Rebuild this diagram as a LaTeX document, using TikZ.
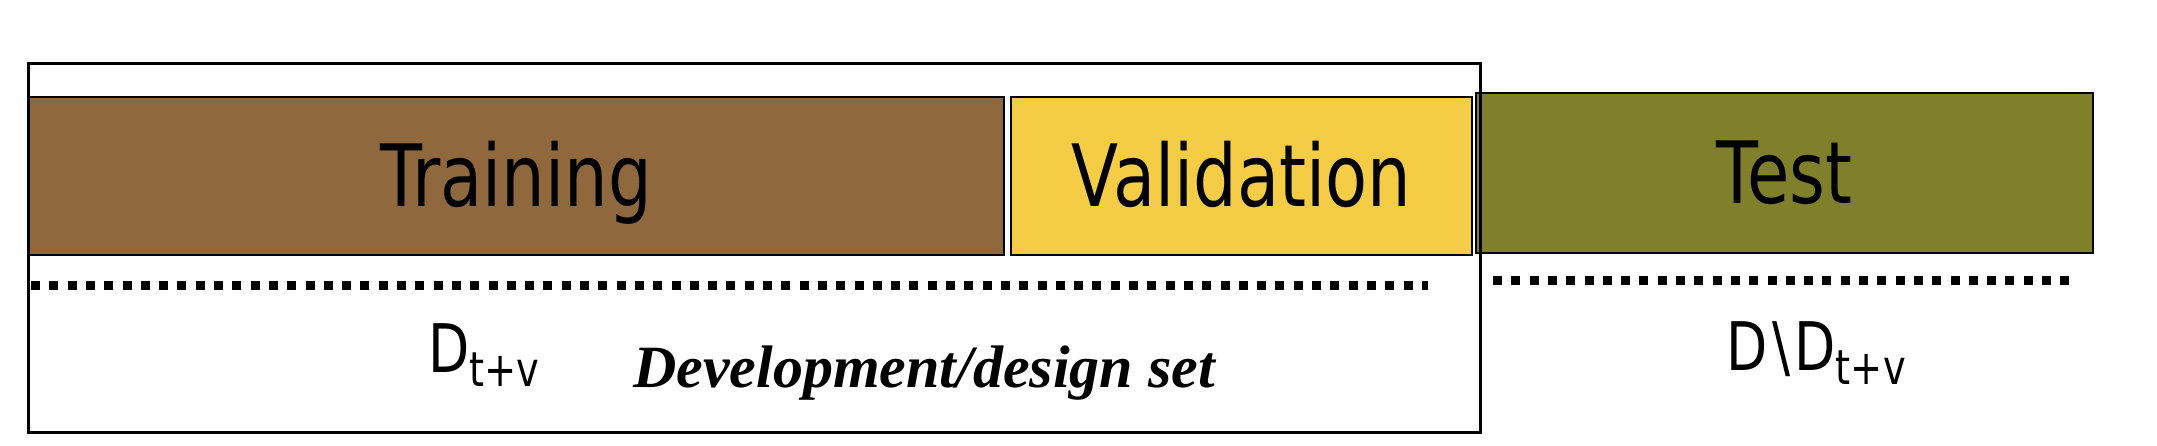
\documentclass[tikz,border=0pt]{standalone}
\usepackage{fontspec}
\newfontfamily\lblfont[FakeStretch=0.8]{DejaVu Sans}
\newfontfamily\devfont{Liberation Serif}
\definecolor{trainc}{RGB}{143,104,62}
\definecolor{valc}{RGB}{245,204,69}
\definecolor{testc}{RGB}{128,128,42}
\tikzset{
  setbox/.style={draw=black, line width=2pt, inner sep=0pt, outer sep=0pt,
    font=\lblfont\fontsize{86}{100}\selectfont, text height=62pt, text depth=0pt},
  dotline/.style={line width=9pt, dash pattern=on 9pt off 9.3pt},
  sublbl/.style={inner sep=0pt, anchor=base west, font=\lblfont\fontsize{67}{80}\selectfont}
}
\newcommand{\subtv}{\raisebox{-14pt}{\fontsize{48}{54}\selectfont t+v}}
\begin{document}
\begin{tikzpicture}[x=1pt,y=-1pt]
\useasboundingbox (0,0) rectangle (2157,446);
\node[setbox, fill=trainc, minimum width=976pt, minimum height=158pt] (train) at (516,176) {Training};
\node[setbox, fill=valc, minimum width=461pt, minimum height=158pt] (val) at (1241.5,176) {Validation};
\node[setbox, fill=testc, minimum width=617pt, minimum height=160pt] (test) at (1784.5,173) {Test};
\node[draw=black, line width=3pt, inner sep=0pt, minimum width=1452pt, minimum height=368pt] (dev) at (754,248) {};
\coordinate (d1) at (31,286);
\coordinate (d2) at (1428,286);
\coordinate (t1) at (1493,281);
\coordinate (t2) at (2070,281);
\draw[dotline] (d1) -- (d2);
\draw[dotline] (t1) -- (t2);
\node[sublbl] (dtv) at (428,372) {D\subtv};
\node[inner sep=0pt, anchor=base west, font=\devfont\bfseries\itshape\fontsize{60}{70}\selectfont] (devlbl) at (633,387) {Development/design set};
\node[sublbl] (ddtv) at (1726,370) {D\kern5pt\textbackslash\kern4pt D\subtv};
\end{tikzpicture}
\end{document}
